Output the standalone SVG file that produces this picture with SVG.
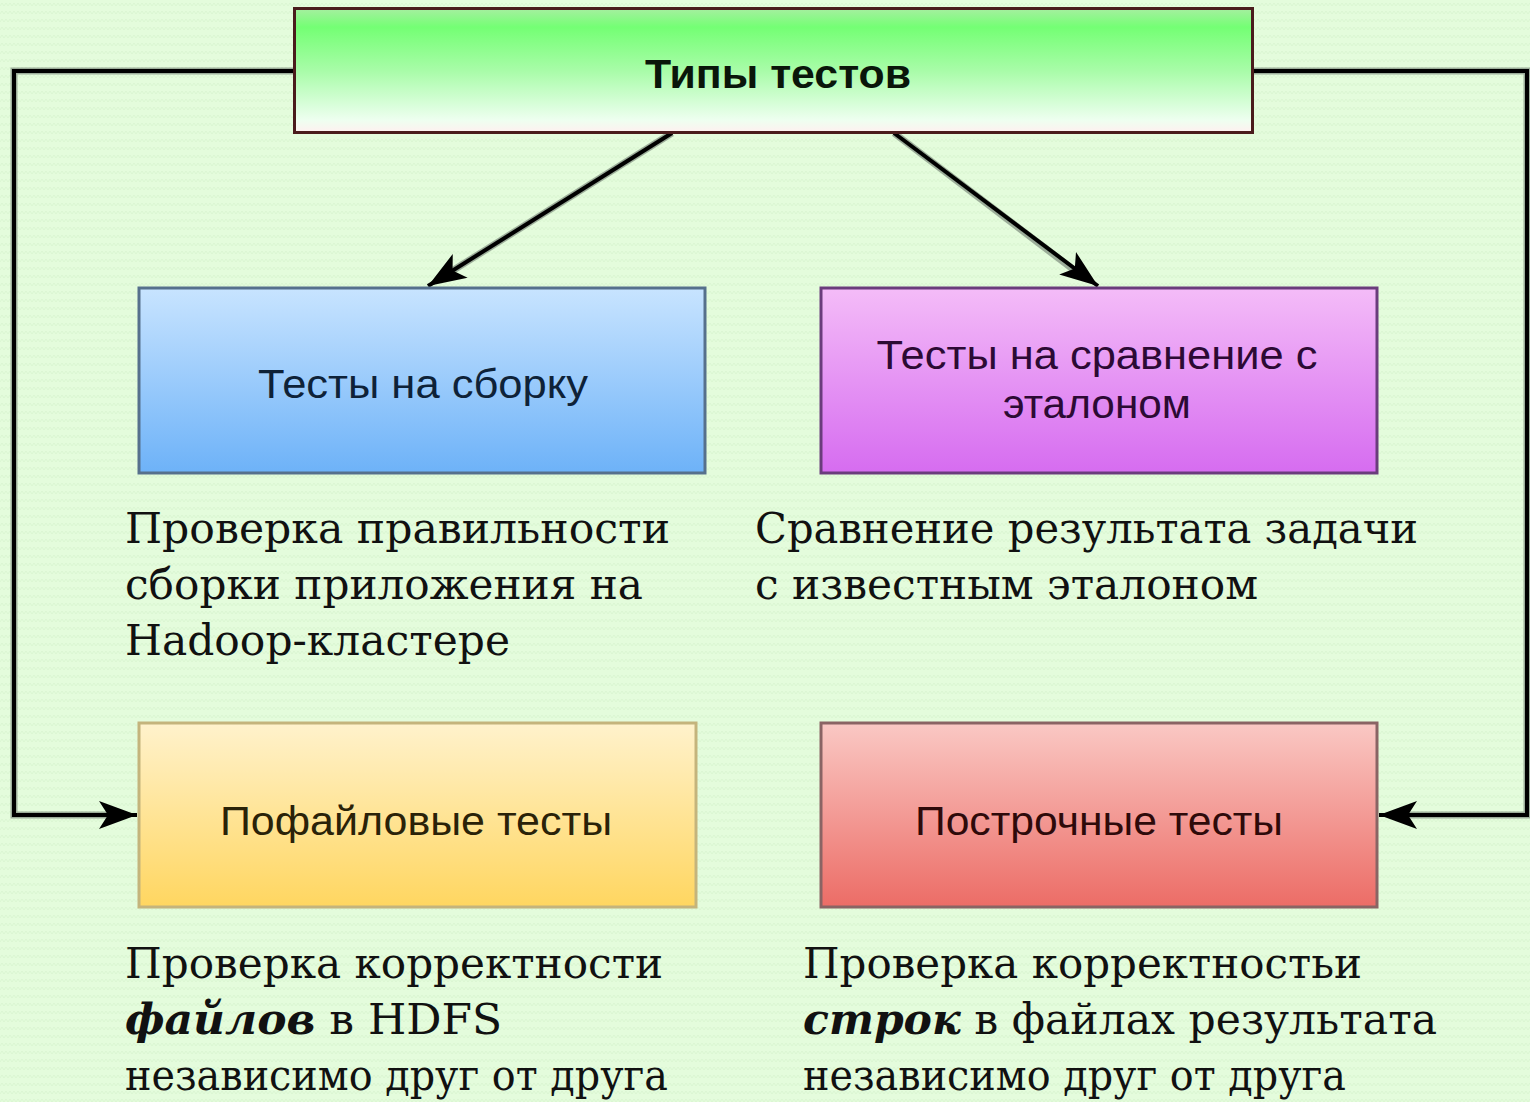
<svg xmlns="http://www.w3.org/2000/svg" width="1530" height="1102" viewBox="0 0 1530 1102">
<defs>
<pattern id="bg" width="8" height="8" patternUnits="userSpaceOnUse">
<rect width="8" height="8" fill="#e4fcdc"/>
<path d="M0,6 L2,3 L4,6 L6,3 L8,6" fill="none" stroke="#dbf6d2" stroke-width="1"/>
</pattern>
<linearGradient id="gTop" x1="0" y1="0" x2="0" y2="1">
<stop offset="0" stop-color="#a6efa0"/>
<stop offset="0.15" stop-color="#74ff74"/>
<stop offset="0.5" stop-color="#a8fca8"/>
<stop offset="0.9" stop-color="#eefff0"/>
<stop offset="1" stop-color="#fff0f0"/>
</linearGradient>
<linearGradient id="gBlue" x1="0" y1="0" x2="0" y2="1">
<stop offset="0" stop-color="#c8e4ff"/>
<stop offset="1" stop-color="#6db2f8"/>
</linearGradient>
<linearGradient id="gPurple" x1="0" y1="0" x2="0" y2="1">
<stop offset="0" stop-color="#f4bcf8"/>
<stop offset="1" stop-color="#d66cf0"/>
</linearGradient>
<linearGradient id="gYellow" x1="0" y1="0" x2="0" y2="1">
<stop offset="0" stop-color="#fff2cc"/>
<stop offset="1" stop-color="#ffd660"/>
</linearGradient>
<linearGradient id="gRed" x1="0" y1="0" x2="0" y2="1">
<stop offset="0" stop-color="#fac8c4"/>
<stop offset="1" stop-color="#ec6c66"/>
</linearGradient>
<marker id="arr" markerUnits="userSpaceOnUse" markerWidth="38" markerHeight="28" viewBox="0 0 38 28" refX="38" refY="14" orient="auto">
<path d="M0,0 L38,14 L0,28 L9,14 Z" fill="#000"/>
</marker>
</defs>
<style>
.halo{fill:none;stroke:#7d8c7d;stroke-width:7;opacity:0.7}
.conn{fill:none;stroke:#000;stroke-width:4}
.lbl{font-family:"Liberation Sans",Arial,sans-serif;font-size:40px;text-anchor:middle}
.desc{font-family:"DejaVu Serif","Liberation Serif",serif;font-size:43px;fill:#111}
</style>
<rect width="1530" height="1102" fill="url(#bg)"/>

<g id="connectors">
<path class="halo" d="M293,71 H14 V815 H110"/>
<path class="halo" d="M1253,71 H1527 V815 H1405"/>
<path class="halo" d="M672,133 L452,271"/>
<path class="halo" d="M894,133 L1074,270"/>
<path class="conn" d="M293,71 H14 V815 H137" marker-end="url(#arr)"/>
<path class="conn" d="M1253,71 H1527 V815 H1379" marker-end="url(#arr)"/>
<path class="conn" d="M672,133 L428,286" marker-end="url(#arr)"/>
<path class="conn" d="M894,133 L1098,286" marker-end="url(#arr)"/>
</g>

<g id="node-types">
<rect x="294.5" y="8.5" width="958" height="124" fill="url(#gTop)" stroke="#4a1c1c" stroke-width="3"/>
<text x="778" y="88" class="lbl" font-weight="bold" font-size="37" fill="#0a160a" textLength="266" lengthAdjust="spacingAndGlyphs">Типы тестов</text>
</g>

<g id="node-build">
<rect x="139" y="288" width="566" height="185" fill="url(#gBlue)" stroke="#56708c" stroke-width="3"/>
<text x="423" y="398" class="lbl" fill="#0e2238" textLength="330" lengthAdjust="spacingAndGlyphs">Тесты на сборку</text>
</g>

<g id="node-compare">
<rect x="821" y="288" width="556" height="185" fill="url(#gPurple)" stroke="#6a3c7c" stroke-width="3"/>
<text x="1097" y="369" class="lbl" fill="#2c0a34" textLength="441" lengthAdjust="spacingAndGlyphs">Тесты на сравнение с</text>
<text x="1097" y="418" class="lbl" fill="#2c0a34" textLength="188" lengthAdjust="spacingAndGlyphs">эталоном</text>
</g>

<g id="node-perfile">
<rect x="139" y="723" width="557" height="184" fill="url(#gYellow)" stroke="#c4b47c" stroke-width="3"/>
<text x="416" y="835" class="lbl" fill="#2a2208" textLength="392" lengthAdjust="spacingAndGlyphs">Пофайловые тесты</text>
</g>

<g id="node-perline">
<rect x="821" y="723" width="556" height="184" fill="url(#gRed)" stroke="#8a6464" stroke-width="3"/>
<text x="1099" y="835" class="lbl" fill="#2e0a0a" textLength="368" lengthAdjust="spacingAndGlyphs">Построчные тесты</text>
</g>

<g id="desc-build">
<text x="125" y="543" class="desc" textLength="545" lengthAdjust="spacingAndGlyphs">Проверка правильности</text>
<text x="125" y="599" class="desc" textLength="518" lengthAdjust="spacingAndGlyphs">сборки приложения на</text>
<text x="125" y="655" class="desc" textLength="385" lengthAdjust="spacingAndGlyphs">Hadoop-кластере</text>
</g>

<g id="desc-compare">
<text x="755" y="543" class="desc" textLength="663" lengthAdjust="spacingAndGlyphs">Сравнение результата задачи</text>
<text x="755" y="599" class="desc" textLength="503" lengthAdjust="spacingAndGlyphs">с известным эталоном</text>
</g>

<g id="desc-perfile">
<text x="125" y="978" class="desc" textLength="538" lengthAdjust="spacingAndGlyphs">Проверка корректности</text>
<text x="125" y="1034" class="desc" textLength="377" lengthAdjust="spacingAndGlyphs"><tspan font-weight="bold" font-style="italic">файлов</tspan> в HDFS</text>
<text x="125" y="1090" class="desc" textLength="543" lengthAdjust="spacingAndGlyphs">независимо друг от друга</text>
</g>

<g id="desc-perline">
<text x="803" y="978" class="desc" textLength="559" lengthAdjust="spacingAndGlyphs">Проверка корректностьи</text>
<text x="803" y="1034" class="desc" textLength="634" lengthAdjust="spacingAndGlyphs"><tspan font-weight="bold" font-style="italic">строк</tspan> в файлах результата</text>
<text x="803" y="1090" class="desc" textLength="543" lengthAdjust="spacingAndGlyphs">независимо друг от друга</text>
</g>
</svg>
